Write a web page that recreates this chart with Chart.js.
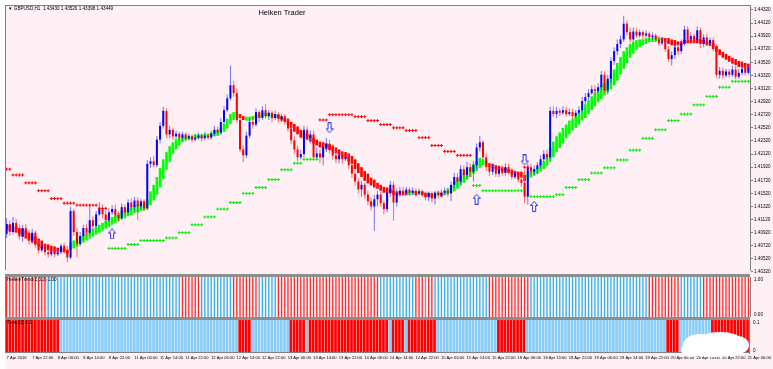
<!DOCTYPE html>
<html><head><meta charset="utf-8">
<script src="https://cdn.jsdelivr.net/npm/chart.js@4.4.1/dist/chart.umd.min.js"></script>
<style>
html,body{margin:0;padding:0;background:#FFF0F5;}
body{width:773px;height:369px;position:relative;overflow:hidden;}
canvas{position:absolute;left:0;}
.sep{position:absolute;left:5px;width:745px;background:#8e8e8e;}
.wh{position:absolute;background:#ffffff;}
</style></head><body>
<div class="wh" style="left:0;top:0;width:773px;height:5px"></div>
<div class="wh" style="left:0;top:0;width:5px;height:369px"></div>
<canvas id="cm" width="773" height="275" style="top:0"></canvas>
<div class="sep" style="top:274px;height:3px"></div>
<canvas id="c1" width="773" height="40" style="top:277px"></canvas>
<div class="sep" style="top:317px;height:3px"></div>
<canvas id="c2" width="773" height="49" style="top:320px"></canvas>
<script>
const titleText = 'Heiken Trader';
const symbolText = '\u25BC GBPUSD,H1  1.43430 1.43520 1.43398 1.43449';
const sub1Text = 'HeikenTrend(2,3,2) 1.00';
const sub2Text = 'Trend(3) 0.1';

const timeLabels = ['7 Apr 2016','7 Apr 22:00','8 Apr 06:00','8 Apr 14:00','8 Apr 22:00','11 Apr 06:00','11 Apr 14:00','11 Apr 22:00','12 Apr 06:00','12 Apr 14:00','12 Apr 22:00','13 Apr 06:00','13 Apr 14:00','13 Apr 22:00','14 Apr 06:00','14 Apr 14:00','14 Apr 22:00','15 Apr 06:00','15 Apr 14:00','15 Apr 22:00','18 Apr 06:00','18 Apr 14:00','18 Apr 22:00','19 Apr 06:00','19 Apr 14:00','19 Apr 22:00','20 Apr 06:00','20 Apr 14:00','20 Apr 22:00','21 Apr 06:00'];
const priceTicks = ['1.44320','1.44120','1.43920','1.43720','1.43520','1.43320','1.43120','1.42920','1.42720','1.42520','1.42320','1.42120','1.41920','1.41720','1.41520','1.41320','1.41120','1.40920','1.40720','1.40520','1.40320'];

const open = [1.4090,1.4105,1.4093,1.4107,1.4098,1.4086,1.4099,1.4090,1.4080,1.4092,
1.4074,1.4065,1.4071,1.4062,1.4059,1.4063,1.4059,1.4062,1.4072,1.4065,
1.4054,1.4125,1.4093,1.4075,1.4087,1.4099,1.4092,1.4111,1.4102,1.4120,
1.4129,1.4120,1.4111,1.4123,1.4128,1.4119,1.4114,1.4131,1.4123,1.4138,
1.4131,1.4141,1.4132,1.4140,1.4129,1.4197,1.4201,1.4195,1.4234,1.4255,
1.4278,1.4242,1.4249,1.4239,1.4243,1.4237,1.4242,1.4236,1.4239,1.4234,
1.4237,1.4240,1.4236,1.4240,1.4237,1.4243,1.4249,1.4245,1.4261,1.4279,
1.4297,1.4317,1.4305,1.4264,1.4219,1.4210,1.4240,1.4261,1.4257,1.4276,
1.4267,1.4279,1.4270,1.4275,1.4267,1.4273,1.4266,1.4270,1.4263,1.4251,
1.4233,1.4219,1.4207,1.4212,1.4249,1.4237,1.4242,1.4207,1.4213,1.4207,
1.4222,1.4228,1.4219,1.4210,1.4204,1.4210,1.4204,1.4207,1.4195,1.4182,
1.4170,1.4158,1.4165,1.4150,1.4140,1.4132,1.4143,1.4150,1.4137,1.4128,
1.4153,1.4165,1.4138,1.4152,1.4156,1.4153,1.4158,1.4153,1.4156,1.4152,
1.4155,1.4150,1.4146,1.4152,1.4144,1.4153,1.4149,1.4153,1.4156,1.4152,
1.4165,1.4177,1.4170,1.4189,1.4180,1.4192,1.4185,1.4195,1.4222,1.4230,
1.4207,1.4192,1.4185,1.4192,1.4182,1.4189,1.4183,1.4192,1.4185,1.4177,
1.4182,1.4173,1.4168,1.4147,1.4192,1.4185,1.4189,1.4195,1.4204,1.4212,
1.4207,1.4278,1.4273,1.4278,1.4275,1.4279,1.4273,1.4276,1.4270,1.4275,
1.4279,1.4293,1.4299,1.4305,1.4311,1.4308,1.4314,1.4333,1.4309,1.4327,
1.4354,1.4369,1.4380,1.4387,1.4411,1.4398,1.4387,1.4399,1.4393,1.4398,
1.4393,1.4396,1.4390,1.4393,1.4387,1.4381,1.4384,1.4372,1.4357,1.4363,
1.4375,1.4369,1.4381,1.4402,1.4387,1.4392,1.4386,1.4401,1.4380,1.4390,
1.4381,1.4386,1.4375,1.4333,1.4339,1.4332,1.4338,1.4333,1.4341,1.4330,
1.4336,1.4342,1.4336];
const close = [1.4105,1.4093,1.4107,1.4098,1.4086,1.4099,1.4090,1.4080,1.4092,1.4074,
1.4065,1.4071,1.4062,1.4059,1.4063,1.4059,1.4062,1.4072,1.4065,1.4054,
1.4125,1.4093,1.4075,1.4087,1.4099,1.4092,1.4111,1.4102,1.4120,1.4129,
1.4120,1.4111,1.4123,1.4128,1.4119,1.4114,1.4131,1.4123,1.4138,1.4131,
1.4141,1.4132,1.4140,1.4129,1.4197,1.4201,1.4195,1.4234,1.4255,1.4278,
1.4242,1.4249,1.4239,1.4243,1.4237,1.4242,1.4236,1.4239,1.4234,1.4237,
1.4240,1.4236,1.4240,1.4237,1.4243,1.4249,1.4245,1.4261,1.4279,1.4297,
1.4317,1.4305,1.4264,1.4219,1.4210,1.4240,1.4261,1.4257,1.4276,1.4267,
1.4279,1.4270,1.4275,1.4267,1.4273,1.4266,1.4270,1.4263,1.4251,1.4233,
1.4219,1.4207,1.4212,1.4249,1.4237,1.4242,1.4207,1.4213,1.4207,1.4222,
1.4228,1.4219,1.4210,1.4204,1.4210,1.4204,1.4207,1.4195,1.4182,1.4170,
1.4158,1.4165,1.4150,1.4140,1.4132,1.4143,1.4150,1.4137,1.4128,1.4153,
1.4165,1.4138,1.4152,1.4156,1.4153,1.4158,1.4153,1.4156,1.4152,1.4155,
1.4150,1.4146,1.4152,1.4144,1.4153,1.4149,1.4153,1.4156,1.4152,1.4165,
1.4177,1.4170,1.4189,1.4180,1.4192,1.4185,1.4195,1.4222,1.4230,1.4207,
1.4192,1.4185,1.4192,1.4182,1.4189,1.4183,1.4192,1.4185,1.4177,1.4182,
1.4173,1.4168,1.4147,1.4192,1.4185,1.4189,1.4195,1.4204,1.4212,1.4207,
1.4278,1.4273,1.4278,1.4275,1.4279,1.4273,1.4276,1.4270,1.4275,1.4279,
1.4293,1.4299,1.4305,1.4311,1.4308,1.4314,1.4333,1.4309,1.4327,1.4354,
1.4369,1.4380,1.4387,1.4411,1.4398,1.4387,1.4399,1.4393,1.4398,1.4393,
1.4396,1.4390,1.4393,1.4387,1.4381,1.4384,1.4372,1.4357,1.4363,1.4375,
1.4369,1.4381,1.4402,1.4387,1.4392,1.4386,1.4401,1.4380,1.4390,1.4381,
1.4386,1.4375,1.4333,1.4339,1.4332,1.4338,1.4333,1.4341,1.4330,1.4336,
1.4342,1.4336,1.4342];
const high = [1.4114,1.4111,1.4116,1.4113,1.4104,1.4104,1.4105,1.4096,1.4098,1.4095,
1.4081,1.4077,1.4075,1.4068,1.4069,1.4066,1.4065,1.4075,1.4077,1.4072,
1.4131,1.4128,1.4099,1.4093,1.4104,1.4105,1.4132,1.4117,1.4125,1.4138,
1.4135,1.4126,1.4129,1.4134,1.4135,1.4125,1.4137,1.4135,1.4143,1.4144,
1.4147,1.4146,1.4144,1.4143,1.4203,1.4207,1.4209,1.4240,1.4261,1.4284,
1.4282,1.4255,1.4252,1.4248,1.4246,1.4246,1.4245,1.4243,1.4242,1.4242,
1.4245,1.4243,1.4246,1.4243,1.4248,1.4255,1.4254,1.4267,1.4285,1.4303,
1.4347,1.4324,1.4312,1.4270,1.4225,1.4246,1.4267,1.4269,1.4282,1.4279,
1.4285,1.4288,1.4279,1.4278,1.4278,1.4276,1.4273,1.4273,1.4267,1.4257,
1.4239,1.4225,1.4218,1.4255,1.4254,1.4248,1.4248,1.4222,1.4219,1.4228,
1.4237,1.4234,1.4227,1.4222,1.4218,1.4216,1.4213,1.4212,1.4200,1.4188,
1.4176,1.4171,1.4168,1.4156,1.4146,1.4150,1.4156,1.4155,1.4141,1.4158,
1.4171,1.4170,1.4159,1.4162,1.4162,1.4162,1.4161,1.4161,1.4159,1.4159,
1.4158,1.4155,1.4155,1.4155,1.4156,1.4156,1.4158,1.4161,1.4161,1.4170,
1.4183,1.4183,1.4195,1.4195,1.4200,1.4198,1.4201,1.4228,1.4240,1.4233,
1.4213,1.4198,1.4198,1.4195,1.4194,1.4195,1.4198,1.4197,1.4191,1.4188,
1.4186,1.4179,1.4188,1.4198,1.4197,1.4195,1.4200,1.4210,1.4218,1.4219,
1.4284,1.4285,1.4284,1.4282,1.4285,1.4284,1.4282,1.4281,1.4279,1.4285,
1.4299,1.4305,1.4311,1.4317,1.4317,1.4320,1.4339,1.4338,1.4333,1.4360,
1.4375,1.4387,1.4393,1.4423,1.4416,1.4405,1.4405,1.4404,1.4402,1.4401,
1.4401,1.4399,1.4398,1.4396,1.4392,1.4389,1.4387,1.4377,1.4369,1.4380,
1.4380,1.4387,1.4408,1.4407,1.4398,1.4396,1.4407,1.4405,1.4395,1.4395,
1.4390,1.4390,1.4380,1.4345,1.4344,1.4342,1.4342,1.4347,1.4347,1.4342,
1.4348,1.4347,1.4348];
const low = [1.4084,1.4087,1.4089,1.4093,1.4081,1.4078,1.4084,1.4074,1.4075,1.4069,
1.4060,1.4062,1.4057,1.4054,1.4056,1.4054,1.4056,1.4059,1.4060,1.4047,
1.4051,1.4087,1.4054,1.4071,1.4081,1.4086,1.4089,1.4096,1.4099,1.4117,
1.4114,1.4105,1.4108,1.4119,1.4114,1.4108,1.4111,1.4119,1.4120,1.4126,
1.4126,1.4111,1.4128,1.4125,1.4126,1.4191,1.4192,1.4192,1.4228,1.4251,
1.4237,1.4236,1.4233,1.4234,1.4233,1.4233,1.4231,1.4233,1.4230,1.4231,
1.4234,1.4231,1.4233,1.4234,1.4234,1.4239,1.4240,1.4242,1.4257,1.4276,
1.4294,1.4299,1.4260,1.4215,1.4200,1.4206,1.4236,1.4251,1.4254,1.4261,
1.4264,1.4266,1.4264,1.4261,1.4264,1.4260,1.4261,1.4257,1.4246,1.4227,
1.4213,1.4201,1.4204,1.4207,1.4233,1.4228,1.4203,1.4203,1.4198,1.4195,
1.4215,1.4213,1.4203,1.4198,1.4198,1.4197,1.4201,1.4189,1.4176,1.4164,
1.4152,1.4147,1.4144,1.4134,1.4126,1.4095,1.4132,1.4132,1.4120,1.4123,
1.4147,1.4110,1.4132,1.4147,1.4149,1.4150,1.4149,1.4150,1.4147,1.4149,
1.4146,1.4141,1.4140,1.4138,1.4135,1.4144,1.4146,1.4150,1.4147,1.4140,
1.4159,1.4162,1.4165,1.4174,1.4174,1.4177,1.4170,1.4189,1.4216,1.4203,
1.4186,1.4179,1.4180,1.4177,1.4177,1.4179,1.4179,1.4180,1.4173,1.4174,
1.4168,1.4162,1.4137,1.4135,1.4180,1.4180,1.4182,1.4191,1.4200,1.4203,
1.4204,1.4269,1.4267,1.4270,1.4272,1.4269,1.4270,1.4266,1.4267,1.4272,
1.4276,1.4288,1.4294,1.4302,1.4303,1.4305,1.4309,1.4305,1.4303,1.4321,
1.4348,1.4363,1.4374,1.4383,1.4393,1.4381,1.4383,1.4389,1.4390,1.4387,
1.4390,1.4386,1.4386,1.4383,1.4377,1.4378,1.4368,1.4353,1.4347,1.4357,
1.4363,1.4365,1.4377,1.4383,1.4384,1.4381,1.4383,1.4374,1.4375,1.4377,
1.4377,1.4369,1.4329,1.4327,1.4327,1.4329,1.4329,1.4330,1.4326,1.4327,
1.4332,1.4332,1.4333];
const haOpen = [1.4105,1.4104,1.4102,1.4101,1.4099,1.4098,1.4095,1.4092,1.4089,1.4086,
1.4083,1.4080,1.4075,1.4074,1.4072,1.4071,1.4069,1.4069,1.4068,1.4066,
1.4065,1.4068,1.4071,1.4074,1.4077,1.4080,1.4083,1.4086,1.4089,1.4092,
1.4095,1.4098,1.4101,1.4104,1.4107,1.4110,1.4113,1.4114,1.4117,1.4119,
1.4122,1.4123,1.4125,1.4126,1.4129,1.4134,1.4141,1.4150,1.4161,1.4174,
1.4188,1.4200,1.4212,1.4219,1.4225,1.4230,1.4233,1.4234,1.4234,1.4236,
1.4236,1.4236,1.4237,1.4237,1.4239,1.4239,1.4240,1.4243,1.4246,1.4251,
1.4258,1.4264,1.4267,1.4273,1.4270,1.4263,1.4263,1.4264,1.4266,1.4267,
1.4269,1.4269,1.4269,1.4267,1.4267,1.4272,1.4269,1.4267,1.4266,1.4261,
1.4258,1.4254,1.4249,1.4245,1.4243,1.4240,1.4237,1.4234,1.4231,1.4230,
1.4228,1.4227,1.4225,1.4222,1.4219,1.4216,1.4215,1.4213,1.4209,1.4204,
1.4198,1.4192,1.4186,1.4182,1.4176,1.4173,1.4168,1.4165,1.4162,1.4161,
1.4158,1.4156,1.4155,1.4155,1.4155,1.4155,1.4149,1.4150,1.4155,1.4150,
1.4155,1.4153,1.4153,1.4152,1.4147,1.4149,1.4153,1.4149,1.4150,1.4152,
1.4155,1.4159,1.4164,1.4168,1.4173,1.4177,1.4182,1.4186,1.4191,1.4195,
1.4195,1.4198,1.4197,1.4195,1.4194,1.4192,1.4191,1.4189,1.4188,1.4186,
1.4185,1.4185,1.4180,1.4173,1.4176,1.4179,1.4182,1.4185,1.4189,1.4194,
1.4200,1.4207,1.4215,1.4221,1.4228,1.4236,1.4242,1.4248,1.4252,1.4257,
1.4263,1.4267,1.4273,1.4279,1.4285,1.4291,1.4296,1.4302,1.4306,1.4311,
1.4317,1.4324,1.4333,1.4342,1.4351,1.4359,1.4365,1.4371,1.4375,1.4378,
1.4380,1.4383,1.4383,1.4384,1.4384,1.4390,1.4389,1.4389,1.4387,1.4386,
1.4384,1.4384,1.4386,1.4387,1.4387,1.4387,1.4387,1.4387,1.4386,1.4384,
1.4383,1.4381,1.4377,1.4372,1.4368,1.4365,1.4362,1.4359,1.4357,1.4354,
1.4353,1.4351,1.4350];
const haClose = [1.4096,1.4095,1.4093,1.4092,1.4090,1.4086,1.4083,1.4080,1.4077,1.4074,
1.4071,1.4068,1.4066,1.4065,1.4063,1.4062,1.4063,1.4063,1.4062,1.4060,
1.4077,1.4080,1.4083,1.4086,1.4089,1.4092,1.4095,1.4098,1.4101,1.4104,
1.4107,1.4110,1.4113,1.4116,1.4119,1.4122,1.4125,1.4126,1.4129,1.4131,
1.4134,1.4135,1.4137,1.4138,1.4144,1.4155,1.4165,1.4177,1.4191,1.4204,
1.4215,1.4224,1.4230,1.4234,1.4237,1.4239,1.4239,1.4240,1.4240,1.4242,
1.4242,1.4242,1.4243,1.4243,1.4245,1.4248,1.4249,1.4252,1.4258,1.4266,
1.4273,1.4276,1.4276,1.4267,1.4264,1.4269,1.4269,1.4270,1.4272,1.4273,
1.4275,1.4275,1.4275,1.4273,1.4273,1.4266,1.4263,1.4261,1.4257,1.4252,
1.4246,1.4242,1.4237,1.4236,1.4234,1.4231,1.4228,1.4225,1.4222,1.4221,
1.4219,1.4218,1.4216,1.4213,1.4210,1.4207,1.4206,1.4201,1.4197,1.4189,
1.4183,1.4177,1.4171,1.4167,1.4164,1.4161,1.4159,1.4156,1.4153,1.4152,
1.4152,1.4150,1.4149,1.4149,1.4149,1.4149,1.4155,1.4156,1.4149,1.4156,
1.4149,1.4147,1.4147,1.4146,1.4153,1.4155,1.4147,1.4155,1.4159,1.4164,
1.4170,1.4174,1.4179,1.4183,1.4188,1.4192,1.4197,1.4201,1.4206,1.4204,
1.4201,1.4192,1.4191,1.4189,1.4188,1.4186,1.4185,1.4183,1.4182,1.4180,
1.4179,1.4176,1.4171,1.4182,1.4185,1.4188,1.4191,1.4197,1.4201,1.4209,
1.4221,1.4231,1.4239,1.4245,1.4252,1.4257,1.4263,1.4266,1.4270,1.4275,
1.4281,1.4288,1.4294,1.4300,1.4306,1.4309,1.4317,1.4320,1.4324,1.4332,
1.4341,1.4351,1.4360,1.4369,1.4375,1.4380,1.4383,1.4386,1.4387,1.4387,
1.4389,1.4389,1.4389,1.4390,1.4390,1.4384,1.4383,1.4380,1.4378,1.4377,
1.4378,1.4378,1.4380,1.4381,1.4381,1.4381,1.4381,1.4381,1.4380,1.4378,
1.4377,1.4372,1.4368,1.4363,1.4359,1.4356,1.4353,1.4350,1.4348,1.4345,
1.4344,1.4342,1.4341];

// trailing stop levels: [firstBar, lastBar, price]
const stopRedRuns = [[0,1,1.4189],[2,5,1.4180],[6,9,1.4168],[10,13,1.4156],[14,17,1.4144],[18,21,1.4137],[22,28,1.4134],[29,31,1.4129],
[98,100,1.4264],[101,108,1.4272],[109,112,1.4269],[113,116,1.4263],[117,120,1.4257],[121,124,1.4252],[125,128,1.4248],[129,132,1.4237],[133,136,1.4225],[137,140,1.4216],[141,145,1.4210],
[162,163,1.4192]];
const stopGreenRuns = [[32,37,1.4068],[38,41,1.4074],[42,49,1.4080],[50,53,1.4084],[54,57,1.4092],[58,61,1.4104],[62,65,1.4116],[66,69,1.4128],[70,73,1.4138],[74,77,1.4152],[78,81,1.4161],[82,85,1.4173],[86,89,1.4188],[90,92,1.4198],[93,97,1.4204],
[146,148,1.4164],[149,161,1.4156],
[164,171,1.4147],[172,174,1.4150],[175,178,1.4161],[179,182,1.4173],[183,186,1.4183],[187,190,1.4191],[191,194,1.4203],[195,198,1.4218],[199,202,1.4236],[203,206,1.4249],[207,210,1.4263],[211,214,1.4273],[215,218,1.4287],[219,222,1.4300],[223,226,1.4314],[227,232,1.4323]];
const upArrowBar = [33,147,165];
const upArrowPrice = [1.4090,1.4143,1.4132];
const downArrowBar = [101,162];
const downArrowPrice = [1.4252,1.4203];

// indicator windows: [state, number of bars]
const sub1Runs = [['r',13],['b',42],['r',6],['b',10],['r',8],['b',6],['r',32],['b',11],['r',3],['b',1],['r',2],['b',17],['r',13],['b',37],['r',10],['b',7],['r',15]];
const sub2Runs = [['r',17],['b',56],['r',4],['b',12],['r',5],['b',1],['r',25],['b',1],['r',4],['b',1],['r',9],['b',19],['r',9],['b',44],['r',4],['b',10],['r',12]];

const N = close.length;
const idx = close.map((_, i) => i);
const FONT = '"Liberation Sans", Arial, sans-serif';

function expandRuns(runs){ const out=[]; runs.forEach(([a,b,v])=>{ for(let i=a;i<=b;i++) out.push({x:i,y:v}); }); return out; }
function expandStates(runs){ const out=[]; runs.forEach(([s,n])=>{ for(let k=0;k<n;k++) out.push(s); }); return out; }

const candleCol = idx.map(i => close[i] >= open[i] ? '#0000FF' : '#FF0000');
const wickCol = idx.map(i => close[i] >= open[i] ? 'rgba(60,60,255,0.7)' : 'rgba(255,50,50,0.7)');
const haCol = idx.map(i => haClose[i] >= haOpen[i] ? '#00FF00' : '#FF0000');
const s1Col = expandStates(sub1Runs).map(s => s === 'r' ? '#FF2A2A' : '#2AB6EE');
const s2Col = expandStates(sub2Runs).map(s => s === 'r' ? '#FF0000' : '#87CEFA');

function arrowImg(up){
  const c=document.createElement('canvas'); c.width=8; c.height=11;
  const g=c.getContext('2d');
  g.beginPath();
  if(up){ g.moveTo(4,0.5); g.lineTo(7.5,4.5); g.lineTo(5.5,4.5); g.lineTo(5.5,10.5); g.lineTo(2.5,10.5); g.lineTo(2.5,4.5); g.lineTo(0.5,4.5); }
  else { g.moveTo(4,10.5); g.lineTo(7.5,6.5); g.lineTo(5.5,6.5); g.lineTo(5.5,0.5); g.lineTo(2.5,0.5); g.lineTo(2.5,6.5); g.lineTo(0.5,6.5); }
  g.closePath(); g.fillStyle='#ffffff'; g.fill(); g.strokeStyle='#2a2aee'; g.lineWidth=1; g.stroke();
  return c;
}

function xScale(show){
  return {
    type:'linear', min:-0.5, max:N-0.5, offset:false, display:show,
    grid:{display:false, drawTicks:false}, border:{display:false},
    afterBuildTicks: s => { s.ticks = timeLabels.map((t,k)=>({value:k*8})); },
    afterFit: s => { if(show) s.height = 16; },
    ticks:{autoSkip:false, maxRotation:0, minRotation:0, align:'start', padding:2,
      font:{size:4.1, family:FONT}, color:'#000',
      callback:(v)=> timeLabels[Math.round(v/8)] ?? ''}
  };
}
function frame(opts){
  return {id:'frame', afterDraw(chart){
    const {ctx, chartArea:a} = chart;
    ctx.save(); ctx.strokeStyle='#808080'; ctx.lineWidth=1; ctx.beginPath();
    ctx.moveTo(a.left+0.5, a.top); ctx.lineTo(a.left+0.5, a.bottom);
    if(opts.top){ ctx.moveTo(a.left, a.top+0.5); ctx.lineTo(a.right, a.top+0.5); }
    if(opts.bottom){ ctx.moveTo(a.left, a.bottom-0.5); ctx.lineTo(a.right, a.bottom-0.5); }
    ctx.stroke();
    if(opts.draw) opts.draw(chart);
    ctx.restore();
  }};
}
const common = {responsive:false, animation:false, devicePixelRatio:1, events:[],
  plugins:{legend:{display:false}, tooltip:{enabled:false}}};

new Chart(document.getElementById('cm'), {
  type:'bar',
  data:{datasets:[
    {type:'bar', data: idx.map(i=>({x:i,y:[haOpen[i],haClose[i]]})), backgroundColor:haCol, barThickness:2.6, grouped:false, inflateAmount:0, order:6},
    {type:'bar', data: idx.map(i=>({x:i,y:[low[i],high[i]]})), backgroundColor:wickCol, barThickness:1, grouped:false, inflateAmount:0, order:5},
    {type:'bar', data: idx.map(i=>({x:i,y:[open[i],close[i]]})), backgroundColor:candleCol, barThickness:2, grouped:false, inflateAmount:0, order:4},
    {type:'line', data: expandRuns(stopRedRuns), showLine:false, pointStyle:'cross', pointRadius:1.5, borderColor:'#FF0000', borderWidth:1, order:3},
    {type:'line', data: expandRuns(stopGreenRuns), showLine:false, pointStyle:'cross', pointRadius:1.5, borderColor:'#00EE00', borderWidth:1, order:3},
    {type:'line', data: upArrowBar.map((b,k)=>({x:b,y:upArrowPrice[k]})), showLine:false, pointStyle:arrowImg(true), pointRadius:4, order:1},
    {type:'line', data: downArrowBar.map((b,k)=>({x:b,y:downArrowPrice[k]})), showLine:false, pointStyle:arrowImg(false), pointRadius:4, order:1}
  ]},
  options:{...common,
    layout:{padding:{left:5, top:5, right:0, bottom:1}},
    scales:{
      x: xScale(false),
      y: {type:'linear', position:'right', min:1.4035, max:1.44395,
        afterBuildTicks: s => { s.ticks = priceTicks.map(t=>({value:parseFloat(t)})); },
        afterFit: s => { s.width = 23; },
        grid:{display:true, drawOnChartArea:false, drawTicks:true, tickLength:3, color:'#808080'},
        border:{display:true, color:'#808080', width:1},
        ticks:{autoSkip:false, padding:1, font:{size:4.6, family:FONT}, color:'#000', callback:(v,i)=>priceTicks[i]}
      }
    }
  },
  plugins:[frame({top:true, draw(chart){
    const ctx = chart.ctx;
    ctx.fillStyle='#000'; ctx.textBaseline='middle';
    ctx.font='7.5px '+FONT; ctx.textAlign='center'; ctx.fillText(titleText, 282, 12.5);
    ctx.font='4.6px '+FONT; ctx.textAlign='left'; ctx.fillText(symbolText, 8, 9);
  }})]
});

new Chart(document.getElementById('c1'), {
  type:'bar',
  data:{datasets:[{data: idx.map(i=>({x:i,y:1})), backgroundColor:s1Col, barThickness:1.3, grouped:false, inflateAmount:0}]},
  options:{...common,
    layout:{padding:{left:5, top:0, right:0, bottom:0}},
    scales:{ x: xScale(false),
      y:{type:'linear', position:'right', min:0, max:1, afterFit:s=>{s.width=23;}, ticks:{display:false}, grid:{display:false}, border:{display:true,color:'#808080'}}}
  },
  plugins:[frame({draw(chart){
    const ctx=chart.ctx, a=chart.chartArea;
    ctx.fillStyle='#000'; ctx.font='4.6px '+FONT; ctx.textBaseline='middle'; ctx.textAlign='left';
    ctx.fillText(sub1Text, 7, 3);
    ctx.fillText('1.00', a.right+4, 3);
    ctx.fillText('0.00', a.right+4, a.bottom-2);
  }})]
});

new Chart(document.getElementById('c2'), {
  type:'bar',
  data:{datasets:[{data: idx.map(i=>({x:i,y:0.1})), backgroundColor:s2Col, barThickness:2.7, grouped:false, inflateAmount:0}]},
  options:{...common,
    layout:{padding:{left:5, top:0, right:0, bottom:0}},
    scales:{ x: xScale(true),
      y:{type:'linear', position:'right', min:0, max:0.1, afterFit:s=>{s.width=23;}, ticks:{display:false}, grid:{display:false}, border:{display:true,color:'#808080'}}}
  },
  plugins:[frame({bottom:true, draw(chart){
    const ctx=chart.ctx, a=chart.chartArea;
    ctx.fillStyle='#000'; ctx.font='4.6px '+FONT; ctx.textBaseline='middle'; ctx.textAlign='left';
    ctx.fillText(sub2Text, 7, 3);
    ctx.fillText('0.1', a.right+4, 3);
    ctx.fillText('0', a.right+4, a.bottom-2);
    // white scribble covering part of the lower-right corner
    ctx.fillStyle='#ffffff';
    [[700,25,17,11],[720,20,21,8],[738,25,11,9],[713,31,30,6],[690,30,9,7]].forEach(([x,y,rx,ry])=>{
      ctx.beginPath(); ctx.ellipse(x,y,rx,ry,0,0,Math.PI*2); ctx.fill();
    });
  }})]
});
</script>
</body></html>
